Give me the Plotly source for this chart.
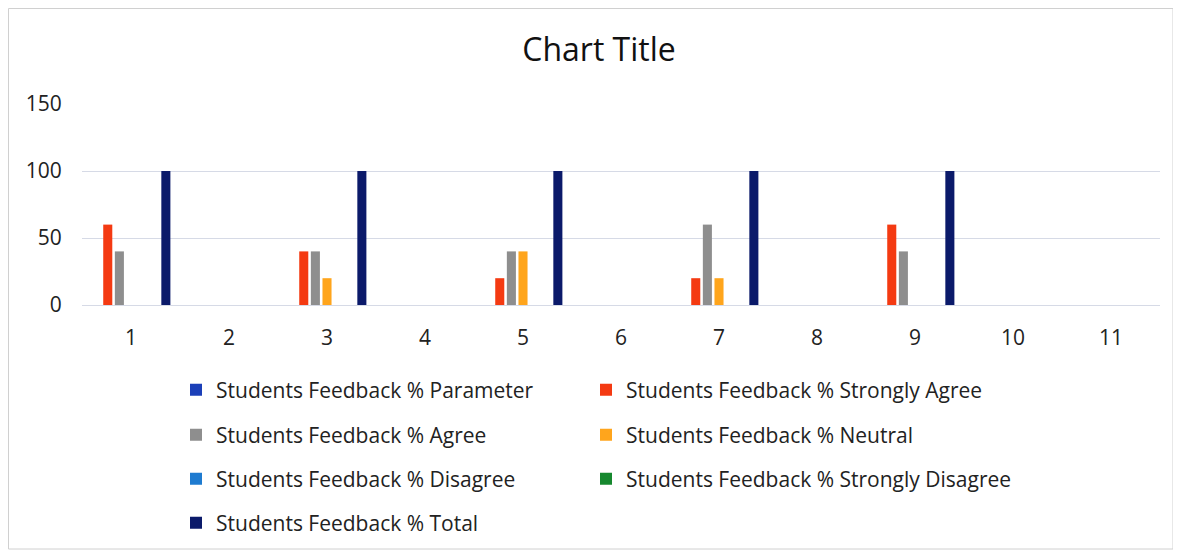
import plotly.graph_objects as go

categories = ["1", "2", "3", "4", "5", "6", "7", "8", "9", "10", "11"]
series_names = [
    "Students Feedback % Parameter",
    "Students Feedback % Strongly Agree",
    "Students Feedback % Agree",
    "Students Feedback % Neutral",
    "Students Feedback % Disagree",
    "Students Feedback % Strongly Disagree",
    "Students Feedback % Total",
]
parameter = [0, 0, 0, 0, 0, 0, 0, 0, 0, 0, 0]
strongly_agree = [60, 0, 40, 0, 20, 0, 20, 0, 60, 0, 0]
agree = [40, 0, 40, 0, 40, 0, 60, 0, 40, 0, 0]
neutral = [0, 0, 20, 0, 40, 0, 20, 0, 0, 0, 0]
disagree = [0, 0, 0, 0, 0, 0, 0, 0, 0, 0, 0]
strongly_disagree = [0, 0, 0, 0, 0, 0, 0, 0, 0, 0, 0]
total = [100, 0, 100, 0, 100, 0, 100, 0, 100, 0, 0]

values = [parameter, strongly_agree, agree, neutral, disagree, strongly_disagree, total]
colors = ["#1B3FB8", "#F43A12", "#8E8E8E", "#FFA51C", "#1E7BD0", "#16882E", "#0B1A6A"]

# page places the figure at an 8px body offset
OFF = 8
W, H = 1181 - OFF, 557 - OFF
L = 82 - OFF
T = 104 - OFF
R = W - (1160 - OFF)
B = H - (305 - OFF)
pw, ph = W - L - R, H - T - B

font = "Open Sans, Noto Sans, sans-serif"
legend_rows_y = [390, 390, 435, 435, 479, 479, 523]
legend_cols_x = [176, 586, 176, 586, 176, 586, 176]

fig = go.Figure()
legends = {}
for i, (name, vals, col) in enumerate(zip(series_names, values, colors)):
    lid = "legend" if i == 0 else f"legend{i + 1}"
    fig.add_trace(go.Bar(x=categories, y=vals, name=name, showlegend=True,
                         marker=dict(color=col, line=dict(width=0)), legend=lid))
    legends[lid] = dict(orientation="h",
                        x=(legend_cols_x[i] - OFF - L) / pw, xanchor="left",
                        y=1 - (legend_rows_y[i] - OFF - T) / ph, yanchor="middle",
                        font=dict(family=font, size=21, color="#222222"),
                        bgcolor="rgba(0,0,0,0)", itemwidth=30)

fig.update_layout(
    width=W, height=H, showlegend=True,
    margin=dict(l=L, r=R, t=T, b=B),
    paper_bgcolor="white", plot_bgcolor="white",
    title=dict(text="Chart Title", x=(599 - OFF) / W, xref="container", xanchor="center",
               y=1 - (50 - OFF) / H, yref="container", yanchor="middle",
               font=dict(family=font, size=32, color="#111111")),
    barmode="group", bargap=0.17, bargroupgap=0.22,
    xaxis=dict(type="category", showgrid=False, showline=False, zeroline=False,
               tickfont=dict(family=font, size=21, color="#222222"), ticks="outside", ticklen=14,
               tickcolor="rgba(0,0,0,0)"),
    yaxis=dict(range=[0, 150], tickvals=[0, 50, 100, 150], showgrid=True,
               gridcolor="#D6DAE6", gridwidth=1.3, zeroline=True, zerolinecolor="#D6DAE6",
               zerolinewidth=1.3, showline=False,
               tickfont=dict(family=font, size=21, color="#222222"), ticks="outside",
               ticklen=15, tickcolor="rgba(0,0,0,0)"),
    shapes=[dict(type="rect", xref="paper", yref="paper",
                 x0=(0.5 - L) / pw, x1=(1165 - L) / pw,
                 y0=1 - (541 - T) / ph, y1=1 - (0.5 - T) / ph,
                 line=dict(color="#D0D0D0", width=1), fillcolor="rgba(0,0,0,0)", layer="below")],
    **legends,
)

fig.write_html("out.html")
